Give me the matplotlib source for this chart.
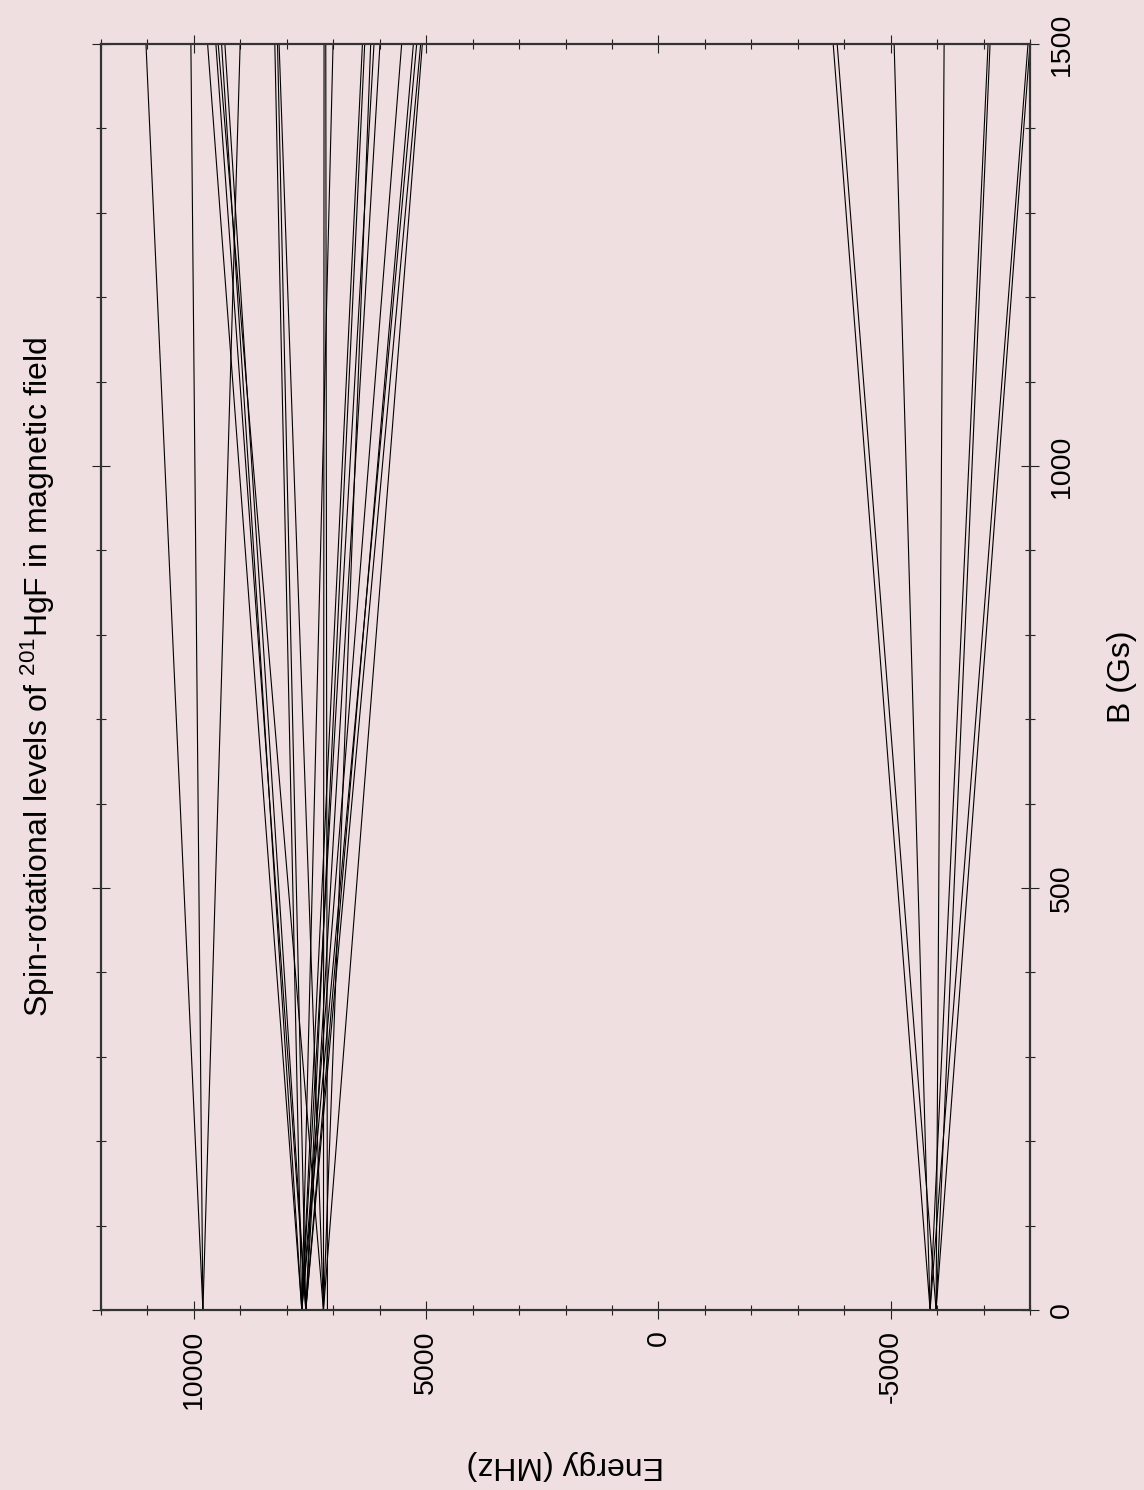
import matplotlib.pyplot as plt
import numpy as np

plt.rcParams['font.family'] = ['Liberation Sans', 'DejaVu Sans']
plt.rcParams['mathtext.default'] = 'regular'
plt.rcParams['axes.unicode_minus'] = False

bg = '#f0dfe0'

# field range (Gs)
B = [0, 1500]

# level energies (MHz) at B = 0 and at B = 1500 Gs, one entry per level
E_start = [9806, 9806, 9806,
           7677, 7677, 7677, 7677, 7677, 7677, 7677, 7677,
           7591, 7591, 7591, 7591, 7591, 7591, 7591,
           7211, 7211, 7211, 7211, 7211,
           7125,
           -5849, -5849, -5849, -5849,
           -5978, -5978, -5978, -5978]
E_end = [11032, 10065, 9004,
         9705, 9404, 8258, 7004, 6372, 6123, 5527, 5204,
         9527, 9333, 8200, 6323, 5994, 5275, 5118,
         9477, 8166, 7198, 6194, 5082,
         7161,
         -3763, -5075, -7097, -7957,
         -3849, -6151, -7140, -8000]

fig = plt.figure(figsize=(11.44, 14.90), dpi=100, facecolor=bg)
ax = fig.add_axes([101/1144, 1 - 1310/1490, 929/1144, 1266/1490], facecolor=bg)

for e0, e1 in zip(E_start, E_end):
    ax.plot([e0, e1], B, color='black', lw=0.8)

ax.set_xlim(12000, -8000)
ax.set_ylim(0, 1500)

ax.set_xticks([10000, 5000, 0, -5000])
ax.set_xticks(np.arange(-8000, 12001, 1000), minor=True)
ax.set_yticks([0, 500, 1000, 1500])
ax.set_yticks(np.arange(0, 1501, 100), minor=True)

ax.tick_params(which='both', direction='inout', top=True, bottom=True,
               left=True, right=True, labelleft=False, labelright=True,
               width=0.8, colors='#222222', labelcolor='black')
ax.tick_params(which='major', length=13)
ax.tick_params(which='minor', length=7)
ax.tick_params(axis='x', labelsize=20.5, labelrotation=90, pad=8)
ax.tick_params(axis='y', labelsize=20.5, labelrotation=90, pad=7)
for lab in ax.get_yticklabels():
    lab.set_va('center')

for s in ax.spines.values():
    s.set_linewidth(1.6)
    s.set_color('#333333')

fig.text(38/1144, 1 - 677/1490, 'Spin-rotational levels of $^{201}$HgF in magnetic field',
         rotation=90, ha='center', va='center', fontsize=23)
fig.text(1122/1144, 1 - 677/1490, 'B (Gs)', rotation=90, ha='center', va='center', fontsize=23)
fig.text(565/1144, 1 - 1465/1490, 'Energy (MHz)', rotation=180, ha='center', va='center', fontsize=23)

fig.savefig('out.png', dpi=100, facecolor=bg)
